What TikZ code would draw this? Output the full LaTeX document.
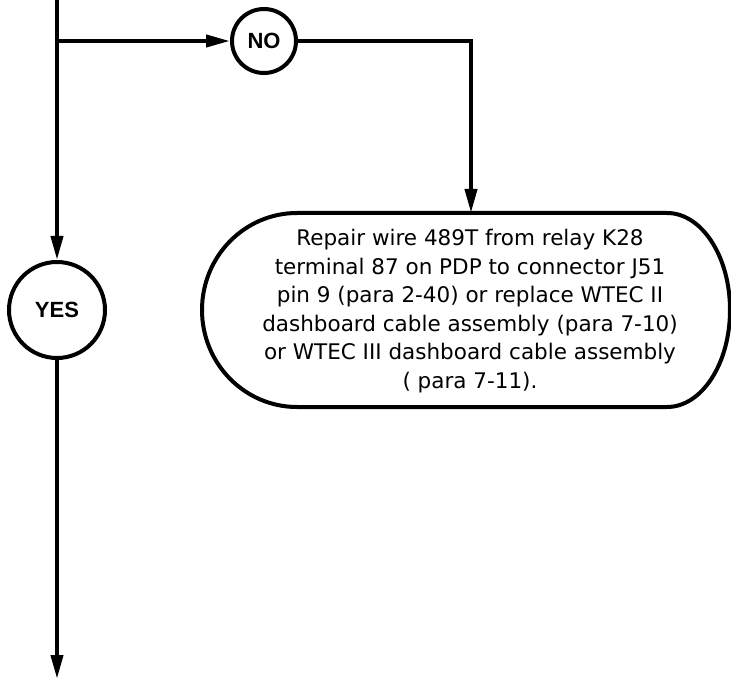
\documentclass[tikz,border=0pt]{standalone}
\usepackage{fontspec}
\setmainfont{Liberation Sans}
\newfontfamily\boxfont{DejaVu Sans}
\usetikzlibrary{arrows.meta}
\begin{document}
\begin{tikzpicture}[x=1pt,y=-1pt,
  flow/.style={line width=4pt},
  arr/.style={flow,-{Triangle[length=24pt,width=12pt]}},
  decision/.style={circle,draw,line width=4pt,inner sep=0pt,font=\fontsize{22}{24}\selectfont\bfseries},
  boxtext/.style={align=center,font=\boxfont\fontsize{21.5}{28.5}\selectfont,inner sep=0pt}]
\useasboundingbox (0,0) rectangle (731,679);
\node[decision,minimum size=64pt] (no) at (264,41) {NO};
\node[decision,minimum size=96pt] (yes) at (57,310) {YES};
\coordinate (top) at (57,-2);
\coordinate (branch) at (57,41);
\coordinate (corner) at (471,41);
\coordinate (boxtop) at (471,213);
\coordinate (end) at (57,679);
% action box outline
\draw[line width=4pt] (297,213) -- (667,213)
  arc[start angle=-90,end angle=90,x radius=63,y radius=97]
  -- (297,407)
  arc[start angle=90,end angle=270,x radius=95,y radius=97] -- cycle;
\node[boxtext] (box) at (470,311) {Repair wire 489T from relay K28\\
terminal 87 on PDP to connector J51\\
pin 9 (para 2-40) or replace WTEC II\\
dashboard cable assembly (para 7-10)\\
or WTEC III dashboard cable assembly\\
( para 7-11).};
% connectors
\draw[arr] (top) -- (yes.north);
\draw[arr] (branch) -- (no.west);
\draw[arr] (no.east) -- (corner) -- (boxtop);
\draw[arr] (yes.south) -- (end);
\end{tikzpicture}
\end{document}
